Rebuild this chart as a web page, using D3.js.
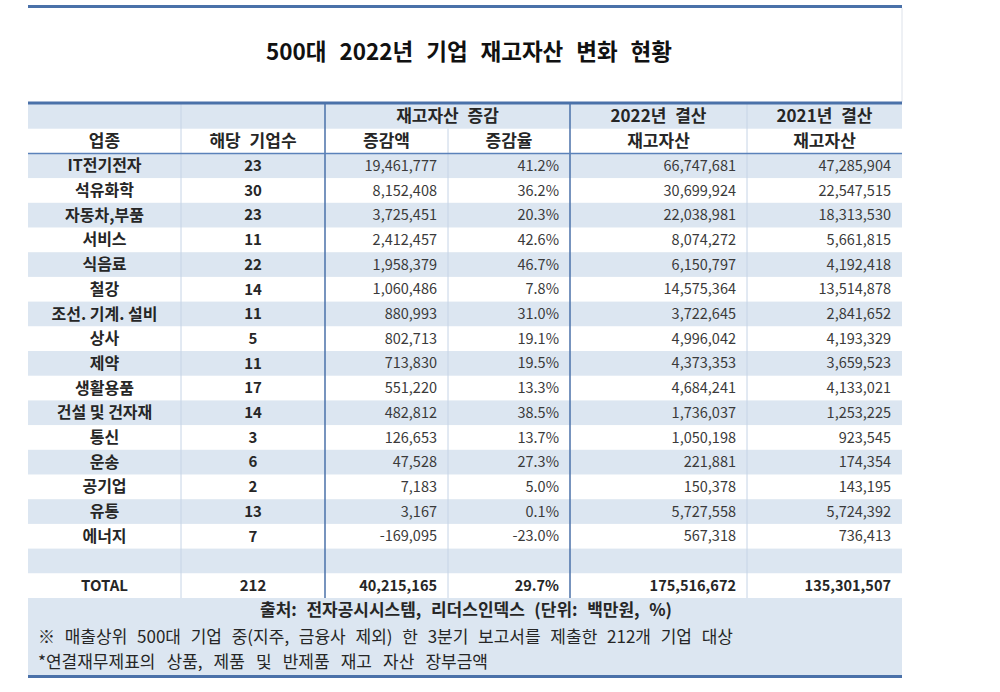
<!DOCTYPE html>
<html>
<head>
<meta charset="utf-8">
<script src="https://cdn.jsdelivr.net/npm/d3@7"></script>
<style>
  body { margin: 0; background: #fff; }
  svg { display: block; font-family: "Noto Sans CJK KR", "Noto Sans", sans-serif; }
</style>
</head>
<body>
<div id="chart"></div>
<script>
// Table data
const industries = ["IT전기전자", "석유화학", "자동차,부품", "서비스", "식음료", "철강", "조선. 기계. 설비", "상사", "제약", "생활용품", "건설 및 건자재", "통신", "운송", "공기업", "유통", "에너지"];
const companyCounts = [23, 30, 23, 11, 22, 14, 11, 5, 11, 17, 14, 3, 6, 2, 13, 7];
const changeAmounts = [19461777, 8152408, 3725451, 2412457, 1958379, 1060486, 880993, 802713, 713830, 551220, 482812, 126653, 47528, 7183, 3167, -169095];
const changeRates = [41.2, 36.2, 20.3, 42.6, 46.7, 7.8, 31.0, 19.1, 19.5, 13.3, 38.5, 13.7, 27.3, 5.0, 0.1, -23.0];
const inventory2022 = [66747681, 30699924, 22038981, 8074272, 6150797, 14575364, 3722645, 4996042, 4373353, 4684241, 1736037, 1050198, 221881, 150378, 5727558, 567318];
const inventory2021 = [47285904, 22547515, 18313530, 5661815, 4192418, 13514878, 2841652, 4193329, 3659523, 4133021, 1253225, 923545, 174354, 143195, 5724392, 736413];
const totalRow = ["TOTAL", 212, 40215165, 29.7, 175516672, 135301507];

const headerTop = [["", 0, 1], ["", 1, 1], ["재고자산 증감", 2, 2], ["2022년 결산", 4, 1], ["2021년 결산", 5, 1]];
const headerBottom = ["업종", "해당 기업수", "증감액", "증감율", "재고자산", "재고자산"];

const title = "500대 2022년 기업 재고자산 변화 현황";
const footNotes = [
    "출처: 전자공시시스템, 리더스인덱스 (단위: 백만원, %)",
    "※ 매출상위 500대 기업 중(지주, 금융사 제외) 한 3분기 보고서를 제출한 212개 기업 대상",
    "*연결재무제표의 상품, 제품 및 반제품 재고 자산 장부금액"
];

// Layout
const W = 1000, H = 692;
const colEdges = [28, 181, 325, 448, 570, 747, 902];
const left = colEdges[0], right = colEdges[colEdges.length - 1];
const blue = "#dce6f1", dark = "#4a71a9", light = "#c6d4e6", ink = "#262626";

const svg = d3.select("#chart").append("svg")
    .attr("width", W)
    .attr("height", H);

const fmtLocale = d3.formatLocale({ decimal: ".", thousands: ",", grouping: [3], currency: ["", ""], minus: "-" });
const fmtInt = fmtLocale.format(",");
const fmtPct = v => fmtLocale.format(".1f")(v) + "%";

// build rows: 2 header rows + data rows + blank + total
const dataRows = industries.map((d, i) => [d, companyCounts[i], changeAmounts[i], changeRates[i], inventory2022[i], inventory2021[i]]);
const bodyRows = [...dataRows, null, totalRow];
const rowKeys = d3.range(2 + bodyRows.length);

const y = d3.scaleBand()
    .domain(rowKeys)
    .range([104, 598]);

const x = d3.scaleOrdinal()
    .domain(d3.range(colEdges.length))
    .range(colEdges);

// fit spaces so a text line reaches a given width
const fitWords = (sel, target) => {
    sel.each(function () {
        const nSpaces = (this.textContent.match(/ /g) || []).length;
        if (!nSpaces) return;
        const w = this.getComputedTextLength();
        d3.select(this).style("word-spacing", Math.max(0, (target - w) / nSpaces) + "px");
    });
};

// Title
svg.append("text")
    .attr("x", 469)
    .attr("y", 52)
    .attr("dy", "0.35em")
    .attr("text-anchor", "middle")
    .style("font-size", "22.5px")
    .style("font-weight", "bold")
    .attr("fill", "#111")
    .text(title)
    .call(fitWords, 406);

// Title box right border
svg.append("line")
    .attr("x1", right).attr("x2", right)
    .attr("y1", 8).attr("y2", 102)
    .attr("stroke", "#dde2ea").attr("stroke-width", 1);

// Row backgrounds
svg.append("g").selectAll("rect")
    .data(rowKeys)
    .join("rect")
    .attr("x", left)
    .attr("y", d => y(d))
    .attr("width", right - left)
    .attr("height", y.bandwidth() + 0.5)
    .attr("fill", d => (d % 2 === 0 ? blue : "#fff"));

// Footer background
svg.append("rect")
    .attr("x", left)
    .attr("y", y.range()[1])
    .attr("width", right - left)
    .attr("height", 676 - y.range()[1])
    .attr("fill", blue);

// Vertical grid lines
const vLines = [
    { c: 1, top: 0, col: light, w: 1 },
    { c: 2, top: 0, col: dark, w: 1.5 },
    { c: 3, top: 1, col: light, w: 1 },
    { c: 4, top: 0, col: dark, w: 1.5 },
    { c: 5, top: 0, col: light, w: 1 }
];
svg.append("g").selectAll("line")
    .data(vLines)
    .join("line")
    .attr("x1", d => x(d.c)).attr("x2", d => x(d.c))
    .attr("y1", d => y(d.top))
    .attr("y2", y.range()[1])
    .attr("stroke", d => d.col)
    .attr("stroke-width", d => d.w);

// Line under header
svg.append("line")
    .attr("x1", left).attr("x2", right)
    .attr("y1", y(2)).attr("y2", y(2))
    .attr("stroke", "#5b82ba").attr("stroke-width", 1.5);

// Thick rules
[6.5, 103, 676.5].forEach(yy => {
    svg.append("line")
        .attr("x1", left).attr("x2", right)
        .attr("y1", yy).attr("y2", yy)
        .attr("stroke", dark).attr("stroke-width", 3);
});

// Header texts
const headG = svg.append("g")
    .style("font-size", "17px")
    .style("font-weight", "bold")
    .attr("fill", ink)
    .attr("text-anchor", "middle");

headG.selectAll("text.top")
    .data(headerTop.filter(d => d[0]))
    .join("text")
    .attr("class", "top")
    .attr("x", d => (x(d[1]) + x(d[1] + d[2])) / 2)
    .attr("y", y(0) + y.bandwidth() / 2)
    .attr("dy", "0.35em")
    .style("word-spacing", "5px")
    .text(d => d[0]);

headG.selectAll("text.bottom")
    .data(headerBottom)
    .join("text")
    .attr("class", "bottom")
    .attr("x", (d, i) => (x(i) + x(i + 1)) / 2)
    .attr("y", y(1) + y.bandwidth() / 2)
    .attr("dy", "0.35em")
    .style("word-spacing", "5px")
    .text(d => d);

// Body cells
const cells = [];
bodyRows.forEach((row, r) => {
    if (!row) return;
    const isTotal = row === totalRow;
    row.forEach((v, c) => {
        let txt;
        if (c === 0) txt = v;
        else if (c === 1) txt = String(v);
        else if (c === 3) txt = fmtPct(v);
        else txt = fmtInt(v);
        cells.push({ r: r + 2, c, txt, bold: c < 2 || isTotal, total: isTotal });
    });
});

svg.append("g").selectAll("text")
    .data(cells)
    .join("text")
    .attr("x", d => (d.c < 2 ? (x(d.c) + x(d.c + 1)) / 2 : x(d.c + 1) - 11))
    .attr("y", d => y(d.r) + y.bandwidth() / 2)
    .attr("dy", "0.35em")
    .attr("text-anchor", d => (d.c < 2 ? "middle" : "end"))
    .style("font-size", d => (d.c === 0 && !d.total ? "16px" : d.c < 2 ? "15px" : "14.5px"))
    .style("font-weight", d => (d.bold ? "bold" : "normal"))
    .attr("fill", d => (d.bold ? ink : "#3a3a3a"))
    .text(d => d.txt);

// Footnotes
svg.append("text")
    .attr("x", 466)
    .attr("y", 610)
    .attr("dy", "0.35em")
    .attr("text-anchor", "middle")
    .style("font-size", "17px")
    .style("font-weight", "bold")
    .attr("fill", ink)
    .text(footNotes[0])
    .call(fitWords, 412);

svg.append("text")
    .attr("x", 38)
    .attr("y", 637)
    .attr("dy", "0.35em")
    .style("font-size", "17px")
    .attr("fill", ink)
    .text(footNotes[1])
    .call(fitWords, 695);

svg.append("text")
    .attr("x", 38)
    .attr("y", 662)
    .attr("dy", "0.35em")
    .style("font-size", "17px")
    .attr("fill", ink)
    .text(footNotes[2])
    .call(fitWords, 450);
</script>
</body>
</html>
